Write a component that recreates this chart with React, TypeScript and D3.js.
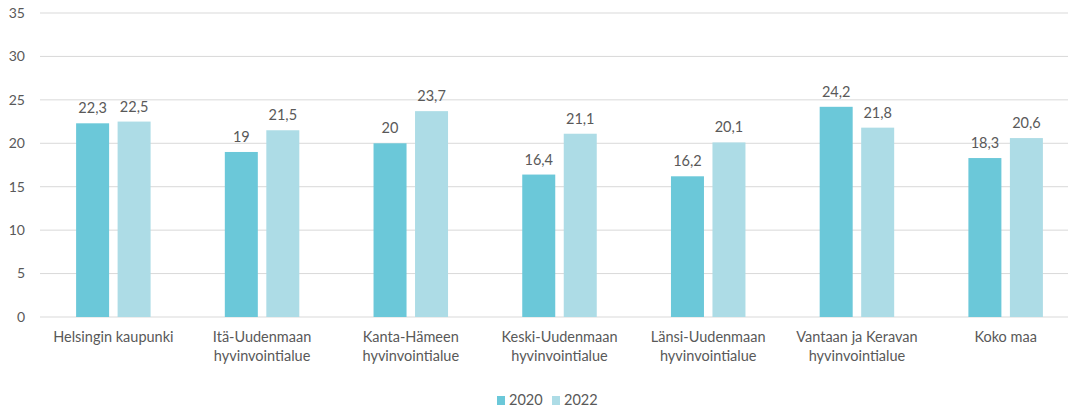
import * as d3 from 'd3';

// values
const categories = [
  ['Helsingin kaupunki'],
  ['Itä-Uudenmaan', 'hyvinvointialue'],
  ['Kanta-Hämeen', 'hyvinvointialue'],
  ['Keski-Uudenmaan', 'hyvinvointialue'],
  ['Länsi-Uudenmaan', 'hyvinvointialue'],
  ['Vantaan ja Keravan', 'hyvinvointialue'],
  ['Koko maa'],
];
const seriesNames = ['2020', '2022'];
const values2020 = [22.3, 19, 20, 16.4, 16.2, 24.2, 18.3];
const values2022 = [22.5, 21.5, 23.7, 21.1, 20.1, 21.8, 20.6];
const yTicks = [0, 5, 10, 15, 20, 25, 30, 35];

const colors = ['#6BC8D9', '#ADDCE6'];
const textColor = '#595959';
const font = 'Lato, "Open Sans", sans-serif';

function App() {
  const width = 1068;
  const height = 410;
  const left = 39;
  const right = 1080;
  const top = 13;
  const bottom = 317;

  const x = d3
    .scaleBand()
    .domain(categories.map((_, i) => String(i)))
    .range([left, right]);
  const bw = x.bandwidth();
  const barW = 33;
  const gap = 8.5;
  const groupW = barW * 2 + gap;

  const y = d3.scaleLinear().domain([0, 35]).range([bottom, top]);
  const series = [values2020, values2022];

  const fmt = (v) => String(v).replace('.', ',');

  return (
    <svg
      width={width}
      height={height}
      style={{ position: 'absolute', left: 0, top: 0, background: '#fff' }}
      fontFamily={font}
    >
      {yTicks.map((t) => (
        <g key={t}>
          <line
            x1={40}
            x2={width}
            y1={y(t)}
            y2={y(t)}
            stroke="#D9D9D9"
            strokeWidth={1}
          />
          <text
            x={25}
            y={y(t)}
            dy="0.35em"
            textAnchor="end"
            fontSize={14}
            fill={textColor}
          >
            {t}
          </text>
        </g>
      ))}

      {categories.map((cat, i) => {
        const x0 = x(String(i)) + (bw - groupW) / 2;
        const cx = x(String(i)) + bw / 2;
        return (
          <g key={i}>
            {series.map((vals, s) => {
              const bx = x0 + s * (barW + gap);
              const v = vals[i];
              return (
                <g key={s}>
                  <rect
                    x={bx}
                    y={y(v)}
                    width={barW}
                    height={y(0) - y(v)}
                    fill={colors[s]}
                  />
                  <text
                    x={bx + barW / 2}
                    y={y(v) - 10}
                    textAnchor="middle"
                    fontSize={14.5}
                    fill={textColor}
                  >
                    {fmt(v)}
                  </text>
                </g>
              );
            })}
            {cat.map((line, k) => (
              <text
                key={k}
                x={cx}
                y={342 + k * 19}
                textAnchor="middle"
                fontSize={14.5}
                fill={textColor}
              >
                {line}
              </text>
            ))}
          </g>
        );
      })}

      {seriesNames.map((name, s) => {
        const lx = 497 + s * 55;
        return (
          <g key={name}>
            <rect x={lx} y={396} width={8} height={9} fill={colors[s]} />
            <text x={lx + 12} y={405} fontSize={14.5} fill={textColor}>
              {name}
            </text>
          </g>
        );
      })}
    </svg>
  );
}

export default App;
